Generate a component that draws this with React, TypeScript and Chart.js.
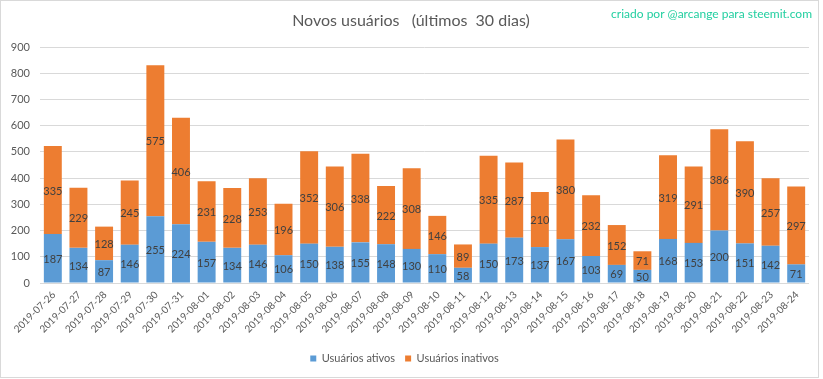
import React, { useEffect, useRef } from "react";
import { Chart, registerables } from "chart.js";

Chart.register(...registerables);

const dates = [
  "2019-07-26", "2019-07-27", "2019-07-28", "2019-07-29", "2019-07-30", "2019-07-31",
  "2019-08-01", "2019-08-02", "2019-08-03", "2019-08-04", "2019-08-05", "2019-08-06",
  "2019-08-07", "2019-08-08", "2019-08-09", "2019-08-10", "2019-08-11", "2019-08-12",
  "2019-08-13", "2019-08-14", "2019-08-15", "2019-08-16", "2019-08-17", "2019-08-18",
  "2019-08-19", "2019-08-20", "2019-08-21", "2019-08-22", "2019-08-23", "2019-08-24",
];

const ativos = [187, 134, 87, 146, 255, 224, 157, 134, 146, 106, 150, 138, 155, 148, 130, 110, 58, 150, 173, 137, 167, 103, 69, 50, 168, 153, 200, 151, 142, 71];
const inativos = [335, 229, 128, 245, 575, 406, 231, 228, 253, 196, 352, 306, 338, 222, 308, 146, 89, 335, 287, 210, 380, 232, 152, 71, 319, 291, 386, 390, 257, 297];

const titleText = "Novos usuários   (últimos  30 dias)";
const creditText = "criado por @arcange para steemit.com";
const FONT = "Lato, 'Open Sans', sans-serif";

const decorPlugin = {
  id: "decor",
  beforeDraw(chart: any) {
    const ctx = chart.ctx;
    ctx.save();
    ctx.fillStyle = "#ffffff";
    ctx.fillRect(0, 0, chart.width, chart.height);
    ctx.strokeStyle = "#d9d9d9";
    ctx.lineWidth = 1;
    ctx.strokeRect(0.5, 0.5, 818, 377);
    ctx.restore();
  },
  afterDraw(chart: any) {
    const ctx = chart.ctx;
    ctx.save();
    ctx.textBaseline = "middle";
    ctx.textAlign = "center";
    ctx.fillStyle = "#595959";
    ctx.font = `16px ${FONT}`;
    ctx.fillText(titleText, 411, 21);
    ctx.textAlign = "right";
    ctx.fillStyle = "#22cfa0";
    ctx.font = `12px ${FONT}`;
    ctx.fillText(creditText, 812, 14);
    // rotated category labels
    const xs = chart.scales.x;
    const labelY = chart.chartArea.bottom + 10;
    ctx.fillStyle = "#595959";
    ctx.font = `10px ${FONT}`;
    ctx.textAlign = "right";
    ctx.textBaseline = "middle";
    (chart.data.labels as string[]).forEach((lab: string, i: number) => {
      const x = xs.getPixelForValue(i);
      ctx.save();
      ctx.translate(x + 1, labelY);
      ctx.rotate(-Math.PI / 4);
      ctx.fillText(lab, 0, 0);
      ctx.restore();
    });
    // data labels
    ctx.textAlign = "center";
    ctx.textBaseline = "middle";
    ctx.fillStyle = "#404040";
    ctx.font = `11px ${FONT}`;
    chart.data.datasets.forEach((ds: any, di: number) => {
      const meta = chart.getDatasetMeta(di);
      meta.data.forEach((bar: any, i: number) => {
        const p = bar.getProps(["x", "y", "base"], true);
        ctx.fillText(String(ds.data[i]), p.x, (p.y + p.base) / 2 + 1);
      });
    });
    ctx.restore();
  },
};

export default function App() {
  const ref = useRef<HTMLCanvasElement>(null);
  useEffect(() => {
    document.body.style.margin = "0";
    const chart = new Chart(ref.current!, {
      type: "bar",
      data: {
        labels: dates,
        datasets: [
          { label: "Usuários ativos", data: ativos, backgroundColor: "#5b9bd5", barPercentage: 0.7, categoryPercentage: 1 },
          { label: "Usuários inativos", data: inativos, backgroundColor: "#ed7d31", barPercentage: 0.7, categoryPercentage: 1 },
        ],
      },
      options: {
        animation: false,
        responsive: false,
        layout: { padding: { top: 47, right: 14, bottom: 5, left: 0 } },
        plugins: {
          title: { display: false },
          tooltip: { enabled: false },
          legend: {
            position: "bottom",
            labels: {
              boxWidth: 6,
              boxHeight: 6,
              padding: 10,
              color: "#595959",
              font: { family: FONT, size: 11 },
            },
          },
        },
        scales: {
          x: {
            stacked: true,
            grid: { display: false },
            border: { display: false },
            ticks: { display: false },
            afterFit: (s: any) => { s.height = 60; },
          },
          y: {
            stacked: true,
            min: 0,
            max: 900,
            ticks: {
              stepSize: 100,
              color: "#595959",
              font: { family: FONT, size: 11 },
              padding: 10,
            },
            grid: { color: "#d9d9d9", drawTicks: false },
            border: { display: false },
            afterFit: (s: any) => { s.width = 40; },
          },
        },
      },
      plugins: [decorPlugin],
    });
    return () => chart.destroy();
  }, []);
  return (
    <div style={{ position: "absolute", left: 0, top: 0, width: 823, height: 379 }}>
      <canvas ref={ref} width={823} height={379} style={{ width: 823, height: 379 }} />
    </div>
  );
}
